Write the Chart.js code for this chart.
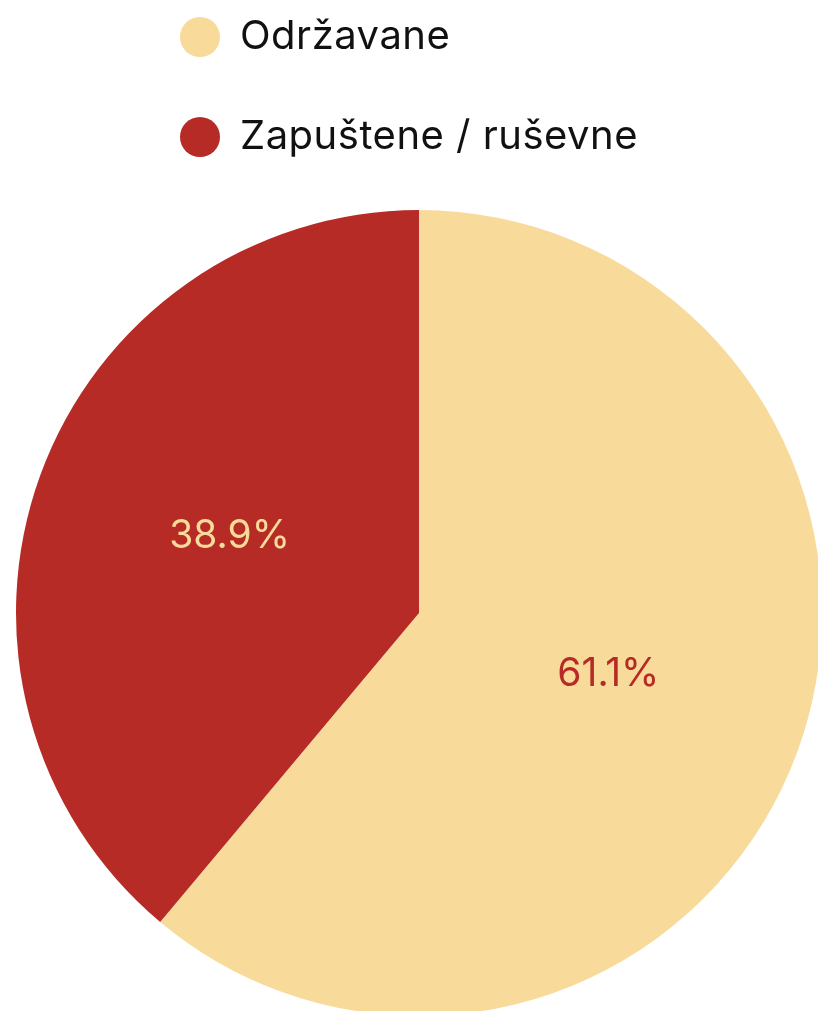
<!DOCTYPE html>
<html>
<head>
<meta charset="utf-8">
<script src="https://cdn.jsdelivr.net/npm/chart.js@4/dist/chart.umd.min.js"></script>
<style>
    html, body { margin: 0; padding: 0; overflow: hidden; background: #fff; }
    canvas { display: block; }
</style>
</head>
<body>
<canvas id="stanjeChart" width="838" height="1016" style="width:838px;height:1016px"></canvas>
<script>
// data
const categories = ['Održavane', 'Zapuštene / ruševne'];
const shares = [61.1, 38.9];
const sliceColors = ['#f8db9a', '#b72b26'];
const labelColors = ['#b72b26', '#f8db9a'];

const FONT = 'Inter, "DejaVu Sans", sans-serif';

// legend stacked one item per row, above the pie
const stackedLegend = {
    id: 'stackedLegend',
    afterDraw(chart) {
        const ctx = chart.ctx;
        const colors = chart.data.datasets[0].backgroundColor;
        ctx.save();
        ctx.font = '40px ' + FONT;
        ctx.textBaseline = 'middle';
        ctx.textAlign = 'left';
        ctx.letterSpacing = '0.5px';
        chart.data.labels.forEach((label, i) => {
            const y = 37 + i * 100;
            ctx.fillStyle = colors[i];
            ctx.beginPath();
            ctx.arc(200, y, 20, 0, Math.PI * 2);
            ctx.fill();
            ctx.fillStyle = '#111';
            ctx.fillText(label, 240, y);
        });
        ctx.restore();
    }
};

// percentage inside each slice
const sliceLabels = {
    id: 'sliceLabels',
    afterDatasetsDraw(chart) {
        const ctx = chart.ctx;
        const meta = chart.getDatasetMeta(0);
        ctx.save();
        ctx.font = '39px ' + FONT;
        ctx.textBaseline = 'middle';
        ctx.textAlign = 'center';
        meta.data.forEach((arc, i) => {
            const p = arc.getProps(['x', 'y', 'startAngle', 'endAngle', 'outerRadius'], true);
            const mid = (p.startAngle + p.endAngle) / 2;
            const r = p.outerRadius * 0.5;
            ctx.fillStyle = labelColors[i];
            ctx.fillText(shares[i].toFixed(1) + '%', p.x + Math.cos(mid) * r, p.y + Math.sin(mid) * r - 8);
        });
        ctx.restore();
    }
};

const ctx = document.getElementById('stanjeChart').getContext('2d');

new Chart(ctx, {
    type: 'pie',
    data: {
        labels: categories,
        datasets: [{
            data: shares,
            backgroundColor: sliceColors,
            borderWidth: 0
        }]
    },
    options: {
        responsive: false,
        animation: false,
        layout: {
            padding: { top: 210 }
        },
        plugins: {
            legend: { display: false },
            tooltip: { enabled: false }
        }
    },
    plugins: [sliceLabels, stackedLegend]
});
</script>
</body>
</html>
